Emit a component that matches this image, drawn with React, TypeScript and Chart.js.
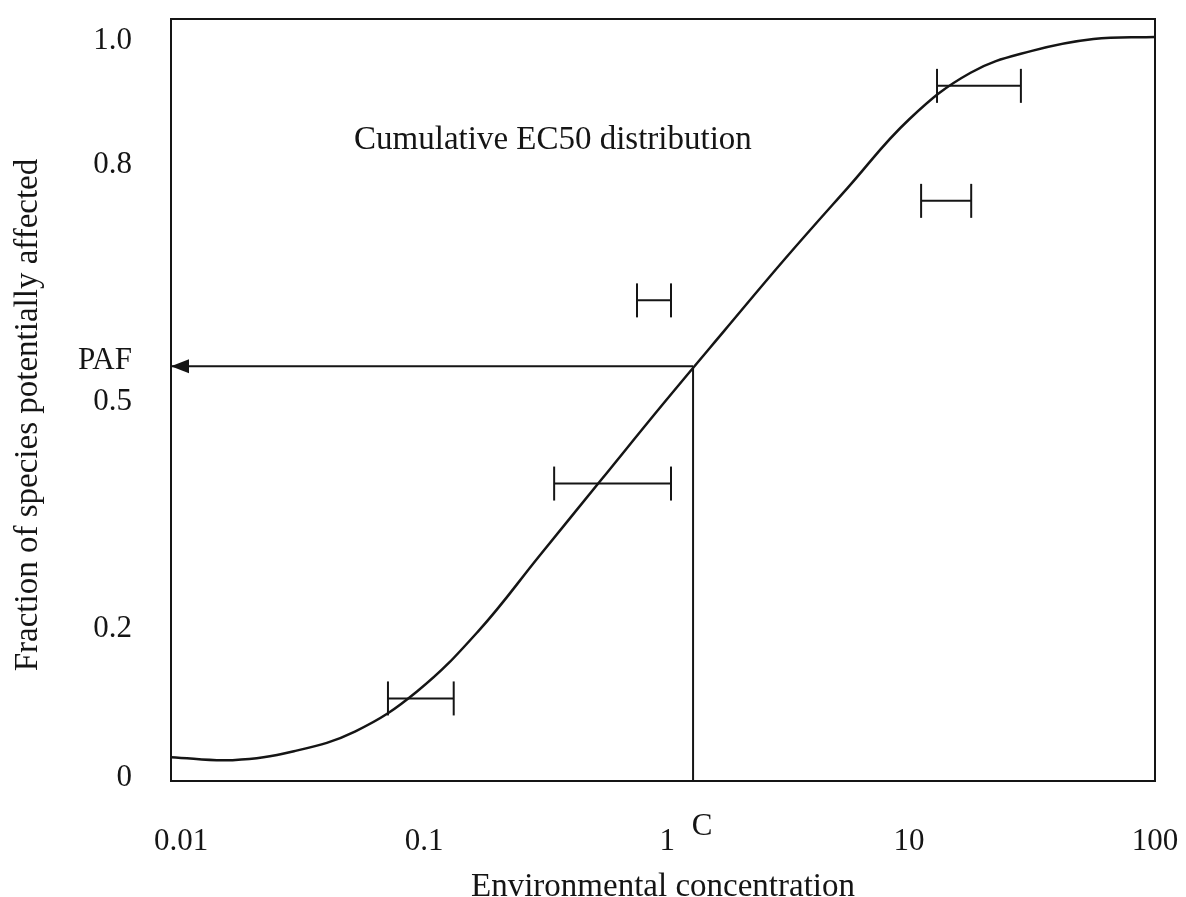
import React, { useEffect, useRef } from 'react';
import { Chart, registerables } from 'chart.js';

Chart.register(...registerables);

// Cumulative EC50 distribution curve (concentration, fraction on the drawn axis)
const curveX = [0.01, 0.0178, 0.0316, 0.0562, 0.1, 0.178, 0.316, 0.562, 1, 1.78, 3.16, 5.62, 10, 17.8, 31.6, 56.2, 100];
const curveY = [0.0283, 0.0243, 0.0364, 0.0634, 0.1174, 0.1997, 0.3023, 0.4049, 0.5074, 0.6073, 0.7058, 0.8003, 0.8934, 0.9568, 0.9865, 1.0027, 1.0054];

// Horizontal EC50 intervals
const barY = [0.108, 0.3995, 0.648, 0.783, 0.939];
const barLow = [0.0762, 0.361, 0.784, 11.2, 13.0];
const barHigh = [0.141, 1.078, 1.078, 17.9, 28.5];

// Axis tick labels (placed where the drawing puts them)
const xTickValues = [0.011, 0.107, 1.04, 10, 100];
const xTickLabels = ['0.01', '0.1', '1', '10', '100'];
const yTickValues = [0, 0.2024, 0.51, 0.5655, 0.8313, 1.0];
const yTickLabels = ['0', '0.2', '0.5', 'PAF', '0.8', '1.0'];

const xMin = 0.01;
const xMax = 100;
const yMin = -0.004;
const yMax = 1.0297;
const concentrationC = 1.325;
const pafLevel = 0.5587;
const curveTitle = 'Cumulative EC50 distribution';
const curveTitleAt = { x: 0.357, y: 0.865 };
const yAxisTitle = 'Fraction of species potentially affected';
const xAxisTitle = 'Environmental concentration';

const INK = '#151515';
const FONT = 'Liberation Serif';

export default function App() {
  const ref = useRef<HTMLCanvasElement | null>(null);

  useEffect(() => {
    if (!ref.current) return;

    const bars = barY.map((y, i) => ({
      label: 'bar' + i,
      data: [
        { x: barLow[i], y },
        { x: barHigh[i], y },
      ],
      borderColor: INK,
      borderWidth: 2,
      pointStyle: 'line' as const,
      pointRadius: 17,
      pointBorderWidth: 2,
      pointRotation: 90,
      pointBorderColor: INK,
      pointBackgroundColor: INK,
      tension: 0,
    }));

    const overlay = {
      id: 'overlay',
      afterDatasetsDraw(chart: any) {
        const { ctx, chartArea: a, scales } = chart;
        ctx.save();
        ctx.strokeStyle = INK;
        ctx.lineWidth = 2;
        ctx.strokeRect(a.left, a.top, a.right - a.left, a.bottom - a.top);
        // arrow head at end of PAF line
        const arrowMeta = chart.getDatasetMeta(chart.data.datasets.length - 1);
        const tip = arrowMeta.data[1];
        ctx.fillStyle = INK;
        ctx.beginPath();
        ctx.moveTo(tip.x, tip.y);
        ctx.lineTo(tip.x + 18, tip.y - 7);
        ctx.lineTo(tip.x + 18, tip.y + 7);
        ctx.closePath();
        ctx.fill();
        // in-plot title
        ctx.font = `33px "${FONT}"`;
        ctx.textAlign = 'center';
        ctx.textBaseline = 'middle';
        ctx.fillText(curveTitle, scales.x.getPixelForValue(curveTitleAt.x), scales.y.getPixelForValue(curveTitleAt.y));
        // C label
        ctx.font = `31px "${FONT}"`;
        ctx.fillText('C', scales.x.getPixelForValue(concentrationC) + 9, a.bottom + 46);
        // y axis title
        ctx.font = `33px "${FONT}"`;
        ctx.translate(28, (a.top + a.bottom) / 2 + 15);
        ctx.rotate(-Math.PI / 2);
        ctx.fillText(yAxisTitle, 0, 0);
        ctx.restore();
      },
    };

    const chart = new Chart(ref.current, {
      type: 'line',
      data: {
        datasets: [
          {
            label: 'curve',
            data: curveX.map((x, i) => ({ x, y: curveY[i] })),
            borderColor: INK,
            borderWidth: 2.5,
            pointRadius: 0,
            tension: 0.4,
          },
          ...bars,
          {
            label: 'C',
            data: [
              { x: concentrationC, y: yMin },
              { x: concentrationC, y: pafLevel },
            ],
            borderColor: INK,
            borderWidth: 2,
            pointRadius: 0,
          },
          {
            label: 'PAF',
            data: [
              { x: concentrationC, y: pafLevel },
              { x: xMin, y: pafLevel },
            ],
            borderColor: INK,
            borderWidth: 2,
            pointRadius: 0,
          },
        ],
      },
      options: {
        animation: false,
        responsive: false,
        events: [],
        layout: { padding: { left: 0, right: 31, top: 15, bottom: 0 } },
        plugins: {
          legend: { display: false },
          tooltip: { enabled: false },
          title: { display: false },
        },
        scales: {
          x: {
            type: 'logarithmic',
            min: xMin,
            max: xMax,
            grid: { display: false, drawTicks: false },
            border: { display: false },
            afterBuildTicks: (s: any) => {
              s.ticks = xTickValues.map((v) => ({ value: v }));
            },
            afterFit: (s: any) => {
              s.height = 116;
              s.paddingLeft = 0;
              s.paddingRight = 0;
              s.paddingTop = 0;
              s.paddingBottom = 0;
            },
            ticks: {
              autoSkip: false,
              maxRotation: 0,
              padding: 42,
              color: INK,
              font: { family: FONT, size: 31 },
              callback: (_v: any, i: number) => xTickLabels[i],
            },
            title: {
              display: true,
              text: xAxisTitle,
              color: INK,
              font: { family: FONT, size: 33, lineHeight: 1 },
              padding: { top: 0, bottom: -7 },
            },
          },
          y: {
            type: 'linear',
            min: yMin,
            max: yMax,
            grid: { display: false, drawTicks: false },
            border: { display: false },
            afterBuildTicks: (s: any) => {
              s.ticks = yTickValues.map((v) => ({ value: v }));
            },
            afterFit: (s: any) => {
              s.width = 171;
              s.paddingLeft = 0;
              s.paddingRight = 0;
              s.paddingTop = 0;
              s.paddingBottom = 0;
            },
            ticks: {
              autoSkip: false,
              padding: 39,
              color: INK,
              font: { family: FONT, size: 31 },
              callback: (_v: any, i: number) => yTickLabels[i],
            },
            title: { display: false },
          },
        },
      },
      plugins: [overlay],
    } as any);

    return () => chart.destroy();
  }, []);

  return (
    <div style={{ position: 'fixed', left: 0, top: 0, width: 1186, height: 897, background: '#fff' }}>
      <canvas ref={ref} width={1186} height={897} style={{ display: 'block' }} />
    </div>
  );
}
